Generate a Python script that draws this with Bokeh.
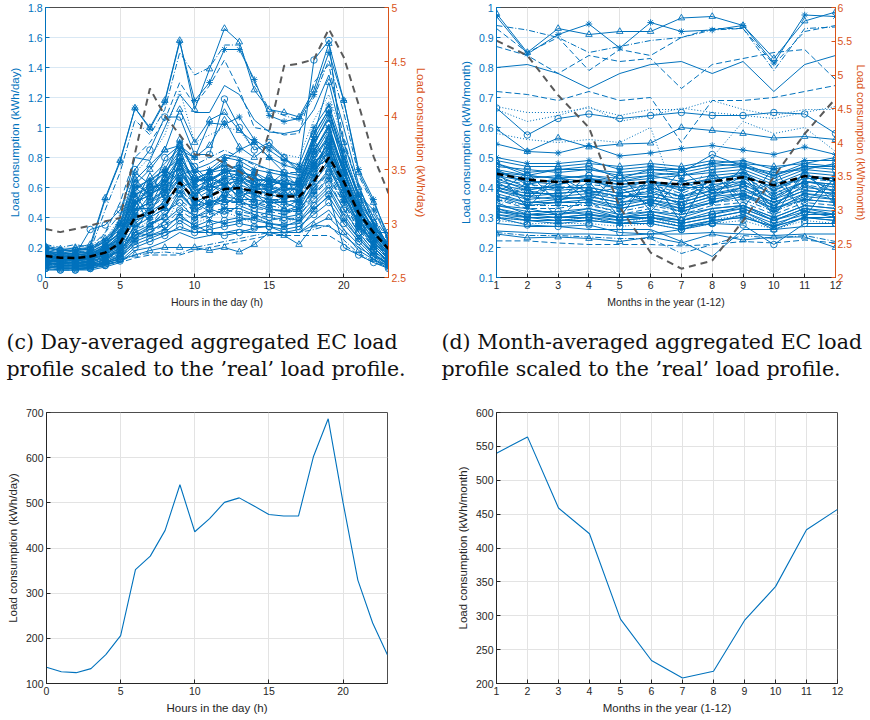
from bokeh.plotting import figure
from bokeh.layouts import column, row
from bokeh.models import Range1d, LinearAxis, FixedTicker, NumeralTickFormatter, Label
from bokeh.embed import file_html
from bokeh.resources import INLINE

# ---------------- data ----------------
hours = [0, 1, 2, 3, 4, 5, 6, 7, 8, 9, 10, 11, 12, 13, 14, 15, 16, 17, 18, 19, 20, 21, 22, 23]
months = [1, 2, 3, 4, 5, 6, 7, 8, 9, 10, 11, 12]

# (c) individual member day profiles (kWh/day, left axis)
day_p01 = [0.20, 0.18, 0.20, 0.22, 0.53, 0.78, 1.13, 1.00, 1.18, 1.58, 1.12, 1.39, 1.66, 1.57, 1.25, 1.12, 1.10, 1.07, 1.25, 1.56, 1.18, 0.70, 0.50, 0.28]
day_p02 = [0.17, 0.16, 0.18, 0.20, 0.52, 0.77, 1.13, 0.99, 1.17, 1.57, 1.18, 1.30, 1.52, 1.52, 1.32, 1.08, 1.04, 1.06, 1.22, 1.50, 1.18, 0.72, 0.52, 0.25]
day_p03 = [0.16, 0.15, 0.16, 0.18, 0.45, 0.70, 1.05, 0.95, 1.12, 1.50, 1.35, 1.40, 1.55, 1.55, 1.30, 1.12, 1.08, 1.05, 1.20, 1.45, 1.10, 0.68, 0.48, 0.24]
day_p04 = [0.15, 0.14, 0.15, 0.16, 0.30, 0.50, 0.80, 0.90, 1.05, 1.30, 1.15, 1.28, 1.45, 1.25, 1.00, 0.98, 0.95, 0.96, 1.30, 1.42, 0.92, 0.60, 0.36, 0.20]
day_p05 = [0.12, 0.11, 0.12, 0.13, 0.20, 0.40, 0.80, 0.78, 1.00, 1.22, 1.10, 1.10, 1.28, 1.22, 1.05, 0.97, 0.96, 0.98, 1.12, 1.35, 1.00, 0.62, 0.36, 0.18]
day_p06 = [0.15, 0.13, 0.15, 0.32, 0.35, 0.45, 0.72, 0.85, 1.07, 1.07, 0.82, 0.82, 1.19, 1.00, 0.85, 0.90, 0.80, 0.72, 1.45, 1.58, 0.75, 0.50, 0.30, 0.30]
day_p07 = [0.12, 0.10, 0.12, 0.13, 0.20, 0.35, 0.62, 0.72, 0.85, 1.12, 0.90, 1.05, 1.10, 0.98, 0.90, 0.80, 0.70, 0.50, 0.95, 1.30, 0.90, 0.60, 0.40, 0.20]
day_p08 = [0.10, 0.09, 0.10, 0.11, 0.18, 0.30, 0.55, 0.60, 0.70, 0.85, 0.80, 1.03, 1.02, 1.07, 0.92, 0.85, 0.78, 0.75, 1.00, 1.15, 0.85, 0.55, 0.35, 0.18]
day_p09 = [0.14, 0.13, 0.14, 0.15, 0.25, 0.40, 0.70, 0.80, 0.95, 1.25, 0.90, 0.95, 1.00, 0.98, 0.85, 0.88, 0.82, 0.80, 1.05, 1.22, 0.90, 0.58, 0.38, 0.20]
day_p10 = [0.14, 0.12, 0.13, 0.14, 0.22, 0.36, 0.65, 0.75, 0.85, 0.88, 0.80, 0.88, 1.05, 0.87, 0.80, 0.88, 0.80, 0.70, 0.95, 1.12, 0.78, 0.55, 0.35, 0.20]
day_p11 = [0.22, 0.20, 0.22, 0.20, 0.30, 0.42, 0.60, 0.62, 0.70, 0.80, 0.75, 0.80, 0.85, 0.80, 0.75, 0.72, 0.70, 0.70, 0.90, 1.05, 0.80, 0.55, 0.40, 0.25]
day_p12 = [0.10, 0.08, 0.08, 0.09, 0.12, 0.20, 0.45, 0.50, 0.55, 0.70, 0.55, 0.60, 0.62, 0.65, 0.58, 0.60, 0.55, 0.55, 0.75, 0.90, 0.62, 0.40, 0.25, 0.15]
day_p13 = [0.12, 0.10, 0.10, 0.11, 0.15, 0.22, 0.40, 0.45, 0.55, 0.65, 0.50, 0.55, 0.60, 0.58, 0.55, 0.52, 0.52, 0.50, 0.68, 0.82, 0.60, 0.40, 0.24, 0.14]
day_p14 = [0.08, 0.07, 0.07, 0.08, 0.10, 0.15, 0.30, 0.35, 0.40, 0.55, 0.45, 0.50, 0.52, 0.50, 0.48, 0.45, 0.45, 0.44, 0.60, 0.72, 0.55, 0.35, 0.20, 0.10]
day_p15 = [0.15, 0.13, 0.13, 0.14, 0.18, 0.25, 0.50, 0.55, 0.62, 0.75, 0.60, 0.65, 0.70, 0.68, 0.62, 0.60, 0.58, 0.60, 0.80, 0.95, 0.70, 0.45, 0.30, 0.18]
day_p16 = [0.11, 0.10, 0.10, 0.10, 0.14, 0.20, 0.38, 0.42, 0.48, 0.60, 0.48, 0.52, 0.55, 0.55, 0.50, 0.50, 0.48, 0.48, 0.62, 0.78, 0.56, 0.36, 0.22, 0.12]
day_p17 = [0.06, 0.05, 0.05, 0.06, 0.08, 0.12, 0.25, 0.30, 0.35, 0.45, 0.38, 0.42, 0.45, 0.44, 0.42, 0.40, 0.38, 0.40, 0.55, 0.65, 0.45, 0.30, 0.18, 0.08]
day_p18 = [0.18, 0.16, 0.16, 0.17, 0.22, 0.30, 0.55, 0.62, 0.70, 0.82, 0.62, 0.70, 0.72, 0.75, 0.70, 0.65, 0.62, 0.62, 0.85, 1.00, 0.72, 0.48, 0.32, 0.20]
day_p19 = [0.09, 0.08, 0.08, 0.09, 0.12, 0.18, 0.35, 0.40, 0.46, 0.58, 0.50, 0.55, 0.50, 0.52, 0.50, 0.48, 0.46, 0.45, 0.58, 0.70, 0.52, 0.34, 0.20, 0.10]
day_p20 = [0.13, 0.12, 0.12, 0.12, 0.16, 0.22, 0.45, 0.50, 0.58, 0.72, 0.58, 0.62, 0.66, 0.65, 0.60, 0.58, 0.55, 0.56, 0.72, 0.88, 0.65, 0.42, 0.27, 0.15]
day_p21 = [0.07, 0.06, 0.06, 0.07, 0.09, 0.13, 0.22, 0.26, 0.30, 0.38, 0.32, 0.35, 0.38, 0.40, 0.38, 0.36, 0.35, 0.36, 0.48, 0.58, 0.40, 0.26, 0.15, 0.08]
day_p22 = [0.14, 0.12, 0.12, 0.13, 0.18, 0.26, 0.60, 0.65, 0.72, 0.90, 0.70, 0.72, 0.80, 0.78, 0.72, 0.70, 0.68, 0.66, 0.88, 1.08, 0.75, 0.50, 0.32, 0.18]
day_p23 = [0.10, 0.09, 0.09, 0.09, 0.12, 0.17, 0.32, 0.36, 0.42, 0.52, 0.44, 0.48, 0.50, 0.50, 0.46, 0.45, 0.44, 0.44, 0.55, 0.68, 0.50, 0.32, 0.20, 0.11]
day_p24 = [0.16, 0.14, 0.14, 0.15, 0.20, 0.28, 0.52, 0.58, 0.66, 0.80, 0.66, 0.70, 0.75, 0.72, 0.66, 0.64, 0.62, 0.62, 0.82, 0.98, 0.70, 0.46, 0.30, 0.18]
day_p25 = [0.05, 0.05, 0.05, 0.05, 0.07, 0.10, 0.18, 0.20, 0.24, 0.30, 0.26, 0.28, 0.30, 0.32, 0.30, 0.30, 0.30, 0.30, 0.38, 0.45, 0.32, 0.22, 0.12, 0.06]
day_p26 = [0.10, 0.09, 0.09, 0.09, 0.10, 0.12, 0.15, 0.18, 0.20, 0.20, 0.20, 0.18, 0.20, 0.17, 0.22, 0.30, 0.28, 0.22, 0.35, 0.40, 0.30, 0.18, 0.12, 0.08]
day_p27 = [0.08, 0.07, 0.07, 0.08, 0.09, 0.10, 0.13, 0.15, 0.15, 0.15, 0.18, 0.20, 0.22, 0.24, 0.26, 0.28, 0.28, 0.28, 0.28, 0.28, 0.22, 0.15, 0.10, 0.07]
day_p28 = [0.09, 0.08, 0.08, 0.08, 0.09, 0.11, 0.15, 0.16, 0.17, 0.16, 0.20, 0.22, 0.24, 0.26, 0.28, 0.30, 0.30, 0.30, 0.32, 0.35, 0.25, 0.16, 0.11, 0.08]
day_p29 = [0.12, 0.10, 0.10, 0.11, 0.14, 0.18, 0.28, 0.32, 0.35, 0.40, 0.35, 0.30, 0.28, 0.30, 0.33, 0.34, 0.30, 0.32, 0.45, 0.55, 0.20, 0.15, 0.10, 0.06]
day_p30 = [0.20, 0.18, 0.18, 0.19, 0.25, 0.35, 0.50, 0.55, 0.62, 0.75, 0.65, 0.70, 0.78, 0.85, 0.90, 0.80, 0.75, 0.72, 0.92, 1.10, 0.80, 0.55, 0.45, 0.25]
day_p31 = [0.11, 0.10, 0.10, 0.10, 0.13, 0.18, 0.30, 0.28, 0.30, 0.32, 0.30, 0.30, 0.30, 0.30, 0.30, 0.30, 0.30, 0.30, 0.35, 0.34, 0.28, 0.20, 0.14, 0.10]
day_p32 = [0.13, 0.11, 0.11, 0.12, 0.15, 0.22, 0.48, 0.60, 0.62, 0.80, 0.66, 0.64, 0.70, 0.75, 0.62, 0.62, 0.70, 0.60, 0.82, 0.92, 0.66, 0.44, 0.28, 0.16]
day_p33 = [0.09, 0.08, 0.08, 0.08, 0.11, 0.16, 0.36, 0.44, 0.50, 0.62, 0.52, 0.48, 0.56, 0.60, 0.55, 0.52, 0.50, 0.52, 0.66, 0.78, 0.58, 0.36, 0.22, 0.12]
day_p34 = [0.16, 0.15, 0.15, 0.16, 0.20, 0.26, 0.42, 0.55, 0.68, 0.72, 0.55, 0.66, 0.62, 0.70, 0.68, 0.56, 0.60, 0.58, 0.76, 0.86, 0.62, 0.44, 0.30, 0.20]
day_p35 = [0.12, 0.11, 0.11, 0.11, 0.14, 0.20, 0.55, 0.48, 0.52, 0.68, 0.62, 0.58, 0.64, 0.60, 0.56, 0.54, 0.56, 0.54, 0.70, 0.84, 0.60, 0.40, 0.26, 0.14]
day_p36 = [0.08, 0.07, 0.07, 0.07, 0.10, 0.14, 0.28, 0.34, 0.44, 0.50, 0.40, 0.46, 0.42, 0.48, 0.44, 0.42, 0.40, 0.42, 0.52, 0.62, 0.46, 0.30, 0.18, 0.10]
day_p37 = [0.10, 0.09, 0.09, 0.10, 0.13, 0.19, 0.42, 0.52, 0.58, 0.76, 0.52, 0.58, 0.66, 0.56, 0.60, 0.62, 0.58, 0.50, 0.74, 0.90, 0.60, 0.38, 0.24, 0.12]
day_p38 = [0.14, 0.13, 0.13, 0.14, 0.18, 0.24, 0.46, 0.46, 0.56, 0.66, 0.56, 0.62, 0.58, 0.62, 0.58, 0.56, 0.52, 0.56, 0.78, 0.94, 0.66, 0.42, 0.28, 0.16]
day_p39 = [0.07, 0.06, 0.06, 0.06, 0.09, 0.13, 0.26, 0.30, 0.38, 0.46, 0.42, 0.40, 0.46, 0.46, 0.42, 0.38, 0.40, 0.38, 0.50, 0.60, 0.42, 0.28, 0.16, 0.09]
day_p40 = [0.17, 0.15, 0.15, 0.16, 0.20, 0.28, 0.62, 0.56, 0.60, 0.70, 0.58, 0.60, 0.68, 0.66, 0.64, 0.66, 0.62, 0.64, 0.84, 1.02, 0.70, 0.46, 0.34, 0.22]
day_p41 = [0.11, 0.10, 0.10, 0.10, 0.14, 0.20, 0.34, 0.40, 0.52, 0.66, 0.48, 0.50, 0.54, 0.52, 0.52, 0.50, 0.50, 0.46, 0.64, 0.76, 0.54, 0.36, 0.22, 0.12]
day_p42 = [0.13, 0.12, 0.12, 0.12, 0.16, 0.22, 0.40, 0.50, 0.60, 0.74, 0.62, 0.68, 0.60, 0.66, 0.62, 0.58, 0.54, 0.58, 0.76, 0.88, 0.64, 0.42, 0.26, 0.15]
day_p43 = [0.19, 0.17, 0.17, 0.18, 0.24, 0.32, 0.58, 0.66, 0.76, 0.86, 0.72, 0.76, 0.82, 0.80, 0.76, 0.72, 0.70, 0.68, 0.90, 1.06, 0.76, 0.50, 0.36, 0.22]
day_p44 = [0.06, 0.05, 0.05, 0.06, 0.08, 0.11, 0.20, 0.24, 0.28, 0.34, 0.30, 0.32, 0.34, 0.36, 0.34, 0.34, 0.32, 0.34, 0.42, 0.50, 0.36, 0.24, 0.14, 0.07]
day_p45 = [0.15, 0.13, 0.13, 0.14, 0.19, 0.27, 0.50, 0.58, 0.64, 0.78, 0.64, 0.66, 0.70, 0.72, 0.66, 0.64, 0.62, 0.64, 0.84, 1.00, 0.70, 0.46, 0.30, 0.17]
day_p46 = [0.21, 0.19, 0.19, 0.20, 0.26, 0.36, 0.70, 0.62, 0.58, 0.68, 0.72, 0.62, 0.56, 0.64, 0.70, 0.62, 0.56, 0.66, 0.72, 0.80, 0.58, 0.40, 0.30, 0.21]
day_p47 = [0.10, 0.09, 0.09, 0.09, 0.12, 0.18, 0.30, 0.48, 0.66, 0.56, 0.46, 0.56, 0.64, 0.52, 0.46, 0.54, 0.62, 0.50, 0.60, 0.70, 0.62, 0.40, 0.20, 0.11]
day_p48 = [0.13, 0.12, 0.12, 0.13, 0.17, 0.24, 0.56, 0.40, 0.46, 0.86, 0.60, 0.48, 0.52, 0.68, 0.56, 0.48, 0.54, 0.62, 0.92, 0.74, 0.52, 0.34, 0.24, 0.13]
day_p49 = [0.08, 0.08, 0.08, 0.08, 0.11, 0.15, 0.32, 0.38, 0.34, 0.54, 0.36, 0.40, 0.44, 0.40, 0.36, 0.42, 0.36, 0.40, 0.62, 0.68, 0.48, 0.30, 0.18, 0.09]
day_p50 = [0.17, 0.15, 0.15, 0.16, 0.21, 0.30, 0.44, 0.64, 0.72, 0.64, 0.52, 0.70, 0.76, 0.58, 0.52, 0.60, 0.66, 0.56, 0.70, 0.84, 0.66, 0.46, 0.28, 0.19]
day_p51 = [0.14, 0.12, 0.12, 0.13, 0.17, 0.23, 0.38, 0.42, 0.62, 0.80, 0.50, 0.44, 0.58, 0.50, 0.64, 0.52, 0.46, 0.52, 0.66, 0.96, 0.74, 0.38, 0.26, 0.14]
day_p52 = [0.12, 0.11, 0.11, 0.12, 0.15, 0.21, 0.52, 0.36, 0.40, 0.58, 0.44, 0.52, 0.48, 0.56, 0.50, 0.46, 0.44, 0.48, 0.70, 0.86, 0.56, 0.36, 0.24, 0.13]
day_p53 = [0.09, 0.08, 0.08, 0.09, 0.12, 0.17, 0.26, 0.34, 0.48, 0.64, 0.40, 0.44, 0.46, 0.42, 0.40, 0.44, 0.42, 0.46, 0.56, 0.66, 0.50, 0.32, 0.20, 0.10]
day_p54 = [0.15, 0.14, 0.14, 0.15, 0.19, 0.26, 0.66, 0.54, 0.66, 0.92, 0.68, 0.60, 0.66, 0.70, 0.60, 0.68, 0.60, 0.58, 0.74, 0.90, 0.64, 0.42, 0.28, 0.16]
day_p55 = [0.18, 0.16, 0.16, 0.17, 0.22, 0.30, 0.48, 0.70, 0.52, 0.60, 0.64, 0.68, 0.62, 0.54, 0.58, 0.66, 0.64, 0.60, 0.78, 0.82, 0.60, 0.44, 0.32, 0.20]
day_p56 = [0.20, 0.18, 0.18, 0.19, 0.24, 0.34, 0.60, 0.52, 0.80, 0.88, 0.74, 0.64, 0.72, 0.70, 0.64, 0.60, 0.66, 0.62, 0.96, 1.12, 0.82, 0.52, 0.36, 0.22]
day_p57 = [0.07, 0.07, 0.07, 0.07, 0.10, 0.14, 0.24, 0.28, 0.32, 0.42, 0.34, 0.38, 0.36, 0.38, 0.40, 0.36, 0.34, 0.38, 0.46, 0.54, 0.38, 0.26, 0.16, 0.08]

day_mean = [0.144, 0.132, 0.130, 0.140, 0.166, 0.230, 0.400, 0.430, 0.475, 0.634, 0.520, 0.540, 0.590, 0.596, 0.574, 0.552, 0.540, 0.540, 0.640, 0.800, 0.640, 0.430, 0.300, 0.190]
day_real_scaled = [2.95, 2.92, 2.95, 2.98, 3.02, 3.05, 3.65, 4.25, 4.00, 3.82, 3.64, 3.63, 3.56, 3.48, 3.40, 3.85, 4.46, 4.48, 4.52, 4.80, 4.54, 4.10, 3.62, 3.28]

# (d) individual member month profiles (kWh/month, left axis)
mon_p01 = [0.98, 0.85, 0.93, 0.91, 0.92, 0.92, 0.965, 0.97, 0.94, 0.83, 0.955, 0.985]
mon_p02 = [0.97, 0.845, 0.91, 0.945, 0.865, 0.95, 0.92, 0.925, 0.94, 0.815, 0.975, 0.97]
mon_p03 = [0.94, 0.925, 0.90, 0.85, 0.87, 0.89, 0.90, 0.925, 0.93, 0.79, 0.93, 0.935]
mon_p04 = [0.87, 0.84, 0.78, 0.84, 0.82, 0.83, 0.73, 0.81, 0.83, 0.85, 0.86, 0.76]
mon_p05 = [0.93, 0.85, 0.90, 0.79, 0.86, 0.84, 0.90, 0.93, 0.93, 0.81, 0.92, 0.94]
mon_p06 = [0.80, 0.81, 0.78, 0.73, 0.78, 0.81, 0.82, 0.78, 0.82, 0.72, 0.81, 0.84]
mon_p07 = [0.72, 0.71, 0.69, 0.72, 0.69, 0.70, 0.55, 0.69, 0.69, 0.70, 0.72, 0.74]
mon_p08 = [0.67, 0.65, 0.65, 0.665, 0.64, 0.66, 0.66, 0.69, 0.66, 0.64, 0.66, 0.66]
mon_p09 = [0.66, 0.62, 0.64, 0.67, 0.62, 0.64, 0.665, 0.65, 0.64, 0.63, 0.65, 0.67]
mon_p10 = [0.665, 0.575, 0.63, 0.645, 0.63, 0.64, 0.65, 0.64, 0.64, 0.65, 0.645, 0.58]
mon_p11 = [0.595, 0.52, 0.565, 0.535, 0.545, 0.548, 0.60, 0.59, 0.58, 0.565, 0.57, 0.56]
mon_p12 = [0.545, 0.52, 0.515, 0.54, 0.505, 0.515, 0.53, 0.54, 0.525, 0.51, 0.535, 0.51]
mon_p13 = [0.58, 0.56, 0.55, 0.56, 0.55, 0.60, 0.32, 0.50, 0.62, 0.58, 0.60, 0.52]
mon_p14 = [0.45, 0.44, 0.43, 0.44, 0.43, 0.44, 0.45, 0.51, 0.47, 0.45, 0.46, 0.48]
mon_p15 = [0.49, 0.47, 0.47, 0.48, 0.47, 0.48, 0.47, 0.49, 0.48, 0.47, 0.48, 0.50]
mon_p16 = [0.48, 0.45, 0.46, 0.46, 0.45, 0.46, 0.46, 0.48, 0.47, 0.44, 0.47, 0.47]
mon_p17 = [0.46, 0.44, 0.43, 0.44, 0.42, 0.43, 0.44, 0.45, 0.46, 0.42, 0.46, 0.45]
mon_p18 = [0.44, 0.42, 0.42, 0.42, 0.41, 0.42, 0.41, 0.43, 0.44, 0.40, 0.44, 0.43]
mon_p19 = [0.43, 0.41, 0.40, 0.41, 0.40, 0.41, 0.38, 0.42, 0.43, 0.39, 0.43, 0.42]
mon_p20 = [0.42, 0.40, 0.40, 0.40, 0.38, 0.40, 0.37, 0.41, 0.42, 0.38, 0.42, 0.41]
mon_p21 = [0.40, 0.38, 0.38, 0.39, 0.37, 0.38, 0.36, 0.39, 0.41, 0.36, 0.40, 0.39]
mon_p22 = [0.39, 0.37, 0.36, 0.37, 0.35, 0.37, 0.35, 0.38, 0.39, 0.35, 0.39, 0.38]
mon_p23 = [0.37, 0.35, 0.35, 0.35, 0.33, 0.35, 0.33, 0.36, 0.38, 0.33, 0.37, 0.36]
mon_p24 = [0.36, 0.34, 0.34, 0.34, 0.32, 0.34, 0.32, 0.35, 0.36, 0.32, 0.36, 0.35]
mon_p25 = [0.34, 0.32, 0.32, 0.33, 0.31, 0.32, 0.30, 0.33, 0.34, 0.30, 0.34, 0.33]
mon_p26 = [0.33, 0.31, 0.31, 0.32, 0.30, 0.31, 0.29, 0.32, 0.33, 0.29, 0.33, 0.32]
mon_p27 = [0.32, 0.30, 0.30, 0.30, 0.29, 0.30, 0.28, 0.30, 0.32, 0.28, 0.31, 0.31]
mon_p28 = [0.31, 0.29, 0.29, 0.29, 0.28, 0.29, 0.27, 0.29, 0.30, 0.27, 0.30, 0.30]
mon_p29 = [0.30, 0.29, 0.29, 0.30, 0.28, 0.30, 0.27, 0.29, 0.31, 0.27, 0.30, 0.30]
mon_p30 = [0.30, 0.275, 0.27, 0.275, 0.25, 0.245, 0.26, 0.28, 0.275, 0.21, 0.28, 0.28]
mon_p31 = [0.38, 0.45, 0.35, 0.42, 0.30, 0.44, 0.28, 0.46, 0.33, 0.47, 0.30, 0.44]
mon_p32 = [0.35, 0.40, 0.30, 0.38, 0.33, 0.42, 0.30, 0.44, 0.36, 0.40, 0.34, 0.45]
mon_p33 = [0.46, 0.33, 0.44, 0.35, 0.45, 0.32, 0.43, 0.36, 0.47, 0.30, 0.46, 0.34]
mon_p34 = [0.245, 0.232, 0.235, 0.23, 0.22, 0.235, 0.215, 0.245, 0.225, 0.235, 0.235, 0.20]
mon_p35 = [0.222, 0.222, 0.215, 0.21, 0.21, 0.21, 0.205, 0.21, 0.22, 0.215, 0.225, 0.215]
mon_p36 = [0.255, 0.25, 0.245, 0.245, 0.24, 0.245, 0.245, 0.25, 0.245, 0.24, 0.245, 0.245]
mon_p37 = [0.25, 0.24, 0.24, 0.235, 0.23, 0.23, 0.18, 0.21, 0.24, 0.23, 0.24, 0.22]
mon_p38 = [0.28, 0.27, 0.27, 0.26, 0.26, 0.26, 0.22, 0.17, 0.26, 0.26, 0.27, 0.27]
mon_p39 = [0.47, 0.46, 0.45, 0.46, 0.44, 0.45, 0.44, 0.46, 0.47, 0.43, 0.47, 0.46]
mon_p40 = [0.45, 0.43, 0.44, 0.43, 0.42, 0.44, 0.42, 0.44, 0.45, 0.41, 0.45, 0.44]
mon_p41 = [0.43, 0.39, 0.41, 0.43, 0.39, 0.41, 0.40, 0.40, 0.44, 0.37, 0.42, 0.40]
mon_p42 = [0.41, 0.39, 0.37, 0.38, 0.36, 0.39, 0.34, 0.37, 0.40, 0.34, 0.41, 0.37]
mon_p43 = [0.39, 0.36, 0.37, 0.36, 0.34, 0.36, 0.33, 0.35, 0.38, 0.32, 0.38, 0.36]
mon_p44 = [0.36, 0.33, 0.33, 0.35, 0.31, 0.33, 0.31, 0.34, 0.35, 0.31, 0.35, 0.34]
mon_p45 = [0.35, 0.31, 0.32, 0.31, 0.30, 0.31, 0.29, 0.31, 0.34, 0.29, 0.33, 0.31]
mon_p46 = [0.33, 0.30, 0.30, 0.31, 0.29, 0.30, 0.28, 0.30, 0.32, 0.27, 0.32, 0.30]
mon_p47 = [0.31, 0.30, 0.29, 0.30, 0.28, 0.29, 0.27, 0.28, 0.31, 0.26, 0.30, 0.29]
mon_p48 = [0.29, 0.28, 0.28, 0.28, 0.27, 0.28, 0.26, 0.28, 0.29, 0.26, 0.29, 0.28]
mon_p49 = [0.50, 0.48, 0.48, 0.49, 0.46, 0.47, 0.46, 0.48, 0.49, 0.46, 0.49, 0.49]
mon_p50 = [0.42, 0.36, 0.44, 0.38, 0.40, 0.34, 0.46, 0.38, 0.44, 0.33, 0.44, 0.38]
mon_p51 = [0.33, 0.42, 0.36, 0.44, 0.35, 0.43, 0.34, 0.45, 0.37, 0.42, 0.35, 0.43]
mon_p52 = [0.38, 0.35, 0.36, 0.37, 0.35, 0.36, 0.34, 0.37, 0.38, 0.34, 0.38, 0.37]
mon_p53 = [0.48, 0.44, 0.46, 0.47, 0.43, 0.46, 0.45, 0.47, 0.48, 0.44, 0.48, 0.47]
mon_p54 = [0.46, 0.41, 0.43, 0.42, 0.40, 0.42, 0.39, 0.42, 0.45, 0.39, 0.44, 0.42]
mon_p55 = [0.44, 0.40, 0.39, 0.40, 0.38, 0.40, 0.37, 0.39, 0.42, 0.36, 0.42, 0.41]
mon_p56 = [0.40, 0.37, 0.38, 0.39, 0.37, 0.37, 0.35, 0.38, 0.40, 0.35, 0.39, 0.38]
mon_p57 = [0.37, 0.34, 0.35, 0.36, 0.33, 0.35, 0.32, 0.35, 0.37, 0.33, 0.36, 0.35]
mon_p58 = [0.34, 0.33, 0.31, 0.33, 0.30, 0.32, 0.31, 0.33, 0.34, 0.30, 0.34, 0.33]
mon_p59 = [0.32, 0.31, 0.30, 0.31, 0.30, 0.30, 0.29, 0.31, 0.33, 0.29, 0.32, 0.31]
mon_p60 = [0.30, 0.29, 0.28, 0.29, 0.28, 0.28, 0.26, 0.29, 0.30, 0.27, 0.30, 0.29]
mon_p61 = [0.41, 0.38, 0.40, 0.38, 0.37, 0.39, 0.37, 0.40, 0.41, 0.37, 0.41, 0.39]
mon_p62 = [0.45, 0.42, 0.41, 0.43, 0.41, 0.42, 0.40, 0.43, 0.44, 0.40, 0.43, 0.43]

mon_mean = [0.446, 0.426, 0.418, 0.423, 0.412, 0.418, 0.410, 0.420, 0.434, 0.407, 0.438, 0.426]
mon_real_scaled = [5.51, 5.29, 4.70, 4.22, 3.04, 2.37, 2.13, 2.25, 2.84, 3.49, 4.13, 4.65]

# (a/b) real load profiles
real_day = [136, 126, 124, 133, 164, 206, 352, 382, 439, 540, 436, 465, 501, 511, 493, 474, 471, 471, 602, 686, 501, 329, 234, 163]
real_month = [540, 564, 459, 421, 295, 234, 208, 218, 293, 343, 427, 457]

caption_c = ["(c) Day-averaged aggregated EC load", "profile scaled to the \u2019real\u2019 load profile."]
caption_d = ["(d) Month-averaged aggregated EC load", "profile scaled to the \u2019real\u2019 load profile."]

# ---------------- styles ----------------
BLUE = "#0072BD"
ORANGE = "#D95319"
DARK = "#262626"
FONT = "Liberation Sans"
S, D, P, DD = "solid", "6 3", "1 2", "6 2 1 2"

day_series = [day_p01, day_p02, day_p03, day_p04, day_p05, day_p06, day_p07, day_p08, day_p09, day_p10,
              day_p11, day_p12, day_p13, day_p14, day_p15, day_p16, day_p17, day_p18, day_p19, day_p20,
              day_p21, day_p22, day_p23, day_p24, day_p25, day_p26, day_p27, day_p28, day_p29, day_p30,
              day_p31, day_p32, day_p33, day_p34, day_p35, day_p36, day_p37, day_p38, day_p39, day_p40,
              day_p41, day_p42, day_p43, day_p44, day_p45, day_p46, day_p47, day_p48, day_p49, day_p50,
              day_p51, day_p52, day_p53, day_p54, day_p55, day_p56, day_p57]
day_styles = [(S, "triangle"), (S, "asterisk"), (DD, None), (D, None), (S, None), (S, "circle"),
              (S, "triangle"), (S, "asterisk"), (P, None), (S, "triangle"), (DD, None), (S, "circle"),
              (D, "asterisk"), (S, "triangle"), (S, None), (P, None), (D, "circle"), (S, "asterisk"),
              (DD, "triangle"), (S, None), (S, "circle"), (S, "asterisk"), (D, None), (S, "triangle"),
              (S, None), (S, "triangle"), (D, None), (DD, None), (S, "circle"), (S, "asterisk"), (S, None),
              (S, "circle"), (S, "triangle"), (S, "asterisk"), (P, None), (S, "circle"), (DD, "asterisk"),
              (S, "triangle"), (S, None), (S, "circle"), (S, "asterisk"), (D, "triangle"), (S, None),
              (S, "circle"), (S, "asterisk"),
              (S, "triangle"), (S, "circle"), (S, "asterisk"), (P, None), (S, "triangle"), (S, None),
              (S, "circle"), (D, "asterisk"), (S, "triangle"), (S, None), (S, "circle"), (S, "asterisk")]

mon_series = [mon_p01, mon_p02, mon_p03, mon_p04, mon_p05, mon_p06, mon_p07, mon_p08, mon_p09, mon_p10,
              mon_p11, mon_p12, mon_p13, mon_p14, mon_p15, mon_p16, mon_p17, mon_p18, mon_p19, mon_p20,
              mon_p21, mon_p22, mon_p23, mon_p24, mon_p25, mon_p26, mon_p27, mon_p28, mon_p29, mon_p30,
              mon_p31, mon_p32, mon_p33, mon_p34, mon_p35, mon_p36, mon_p37, mon_p38, mon_p39, mon_p40,
              mon_p41, mon_p42, mon_p43, mon_p44, mon_p45, mon_p46, mon_p47, mon_p48, mon_p49, mon_p50,
              mon_p51, mon_p52, mon_p53, mon_p54, mon_p55, mon_p56, mon_p57, mon_p58, mon_p59, mon_p60,
              mon_p61, mon_p62]
mon_styles = [(S, "triangle"), (S, "asterisk"), (DD, None), (D, None), (D, None), (S, None), (D, None),
              (P, None), (P, None), (S, "circle"), (S, "triangle"), (S, "asterisk"), (P, None), (S, "circle"),
              (S, "triangle"), (S, "asterisk"), (S, None), (S, "circle"), (D, None), (S, "asterisk"),
              (S, "triangle"), (S, None), (S, "circle"), (DD, "asterisk"), (S, None), (S, "triangle"),
              (S, "circle"), (S, "asterisk"), (P, None), (S, "circle"), (S, None), (D, None), (S, "asterisk"),
              (S, "triangle"), (D, None), (S, None), (DD, None), (S, None),
              (S, "circle"), (S, "asterisk"), (S, "triangle"), (S, "circle"), (S, "asterisk"), (D, None),
              (S, "circle"), (S, "asterisk"), (S, "triangle"), (P, "circle"), (S, "asterisk"), (S, None),
              (DD, "circle"), (S, "triangle"),
              (S, "circle"), (S, "asterisk"), (S, "triangle"), (S, "circle"), (S, "asterisk"), (S, None),
              (S, "circle"), (S, "asterisk"), (D, "triangle"), (S, None)]


def style_axis(ax, color):
    ax.major_tick_out = 0
    ax.major_tick_in = 4
    ax.minor_tick_out = 0
    ax.minor_tick_in = 0
    ax.major_label_text_font = FONT
    ax.major_label_text_font_size = "10.5px"
    ax.axis_label_text_font = FONT
    ax.axis_label_text_font_size = "11.5px"
    ax.axis_label_text_font_style = "normal"
    ax.major_label_standoff = 3
    ax.axis_label_standoff = 4
    ax.axis_line_color = color
    ax.major_tick_line_color = color
    ax.major_label_text_color = color
    ax.axis_label_text_color = color


def base_fig(width, height, xr, yr, left, right, top, bottom, xticks, yticks, xlabel, ylabel, ycolor):
    p = figure(width=width, height=height, x_range=xr, y_range=yr, toolbar_location=None,
               output_backend="svg", min_border_left=left, min_border_right=right,
               min_border_top=top, min_border_bottom=bottom)
    p.outline_line_color = "#4d4d4d"
    p.outline_line_width = 1
    p.background_fill_color = "white"
    p.border_fill_color = "white"
    xa = p.xaxis[0]
    ya = p.yaxis[0]
    style_axis(xa, DARK)
    style_axis(ya, ycolor)
    xa.ticker = FixedTicker(ticks=xticks)
    ya.ticker = FixedTicker(ticks=yticks)
    ya.formatter = NumeralTickFormatter(format="0.[0]")
    xa.axis_label = xlabel
    ya.axis_label = ylabel
    p.xgrid.grid_line_color = "#e3e3e3"
    p.ygrid.grid_line_color = "#d9e8f4" if ycolor == BLUE else "#e3e3e3"
    return p


def add_right(p, lo, hi, ticks, label, label_standoff):
    p.extra_y_ranges = {"r": Range1d(lo, hi)}
    ax = LinearAxis(y_range_name="r", axis_label=label)
    ax.ticker = FixedTicker(ticks=ticks)
    ax.formatter = NumeralTickFormatter(format="0.[0]")
    style_axis(ax, ORANGE)
    ax.axis_label_standoff = label_standoff
    p.add_layout(ax, "right")
    return ax


def draw_series(p, x, series, styles):
    for ys, (dash, mk) in zip(series, styles):
        p.line(x, ys, line_color=BLUE, line_width=1.0, line_dash=dash)
        if mk:
            p.scatter(x, ys, marker=mk, size=6.5, fill_color=None, line_color=BLUE, line_width=0.9)


# ---------- (c) top-left ----------
p1 = base_fig(440, 312, Range1d(0, 23), Range1d(0, 1.8), 45, 52, 7, 34,
              [0, 5, 10, 15, 20], [0, 0.2, 0.4, 0.6, 0.8, 1.0, 1.2, 1.4, 1.6, 1.8],
              "Hours in the day (h)", "Load consumption (kWh/day)", BLUE)
p1.xaxis[0].axis_label_text_font_size = "10.5px"
add_right(p1, 2.5, 5, [2.5, 3, 3.5, 4, 4.5, 5], "Load consumption (kWh/day)", 6)
draw_series(p1, hours, day_series, day_styles)
p1.line(hours, day_real_scaled, y_range_name="r", line_color="#5a5a5a", line_width=2, line_dash="7 5")
p1.line(hours, day_mean, line_color="black", line_width=2.5, line_dash="7 4")

# ---------- (d) top-right ----------
p2 = base_fig(430, 312, Range1d(1, 12), Range1d(0.1, 1), 56, 33, 7, 35,
              months, [0.1, 0.2, 0.3, 0.4, 0.5, 0.6, 0.7, 0.8, 0.9, 1.0],
              "Months in the year (1-12)", "Load consumption (kWh/month)", BLUE)
p2.xaxis[0].axis_label_text_font_size = "10.5px"
r2 = add_right(p2, 2, 6, [2, 2.5, 3, 3.5, 4, 4.5, 5, 5.5, 6], "Load consumption (kWh/month)", 0)
r2.major_label_standoff = 2
r2.axis_label_text_font_size = "11px"
draw_series(p2, months, mon_series, mon_styles)
p2.line(months, mon_real_scaled, y_range_name="r", line_color="#5a5a5a", line_width=2, line_dash="7 5")
p2.line(months, mon_mean, line_color="black", line_width=2.5, line_dash="7 4")

# ---------- captions ----------
cap = figure(width=870, height=78, x_range=Range1d(0, 870), y_range=Range1d(0, 78),
             toolbar_location=None, output_backend="svg", min_border=0)
cap.axis.visible = False
cap.grid.visible = False
cap.outline_line_color = None
for xx, lines in [(6, caption_c), (441, caption_d)]:
    for yy, t in zip([49, 22], lines):
        cap.add_layout(Label(x=xx, y=yy, text=t, text_font="DejaVu Serif", text_font_size="20.5px",
                             text_color="#111111", text_baseline="alphabetic", text_align="left"))
cap.line([0], [0], line_alpha=0)

# ---------- (a) bottom-left ----------
p3 = base_fig(440, 330, Range1d(0, 23), Range1d(100, 700), 46, 53, 22, 37,
              [0, 5, 10, 15, 20], [100, 200, 300, 400, 500, 600, 700],
              "Hours in the day (h)", "Load consumption (kWh/day)", DARK)
p3.line(hours, real_day, line_color=BLUE, line_width=1.1)

# ---------- (b) bottom-right ----------
p4 = base_fig(430, 330, Range1d(1, 12), Range1d(200, 600), 56, 33, 22, 37,
              months, [200, 250, 300, 350, 400, 450, 500, 550, 600],
              "Months in the year (1-12)", "Load consumption (kWh/month)", DARK)
p4.line(months, real_month, line_color=BLUE, line_width=1.1)

layout = column(row(p1, p2, spacing=0), cap, row(p3, p4, spacing=0), spacing=0)
open("out.html", "w").write(file_html(layout, INLINE))
